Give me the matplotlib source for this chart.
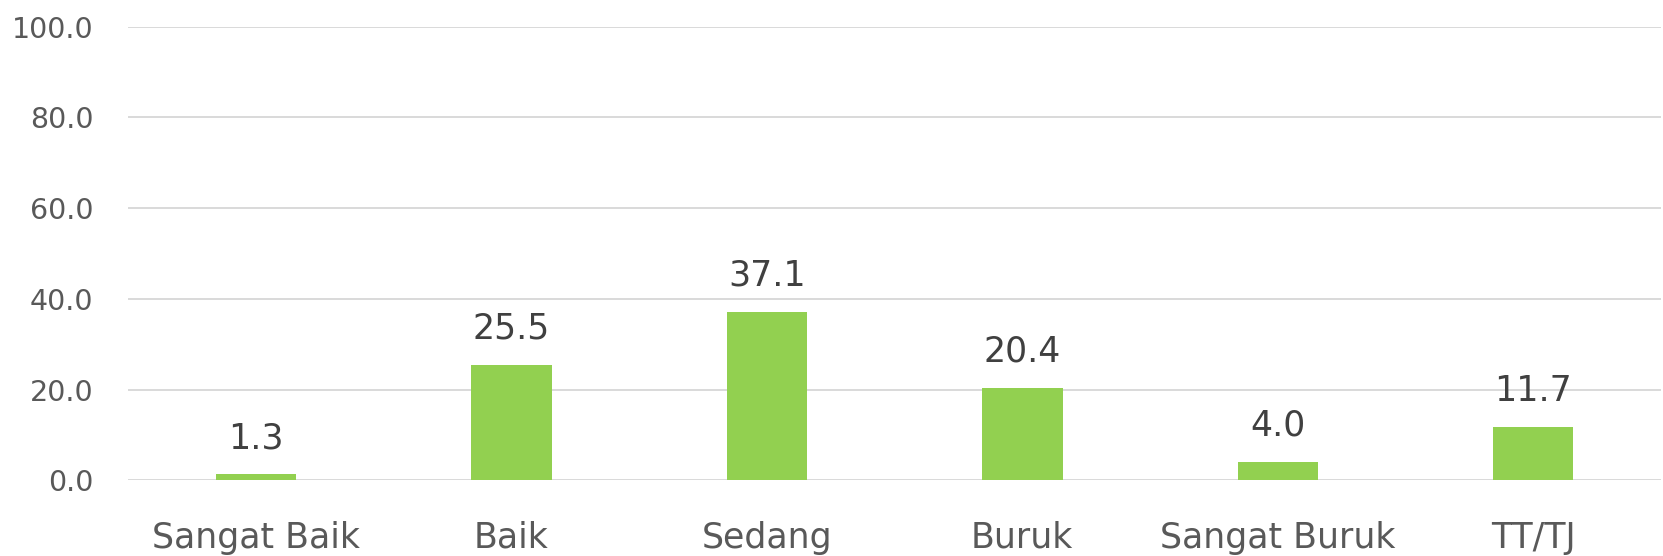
import matplotlib
matplotlib.use("Agg")
import matplotlib.pyplot as plt
import numpy as np

categories = ["Sangat Baik", "Baik", "Sedang", "Buruk", "Sangat Buruk", "TT/TJ"]
values = [1.3, 25.5, 37.1, 20.4, 4.0, 11.7]
yticks = [0, 20, 40, 60, 80, 100]

plt.rcParams['font.family'] = ['DejaVu Sans']

fig = plt.figure(figsize=(16.63, 5.56), dpi=100)
ax = fig.add_axes([0.077, 0.136, 0.9218, 0.816])

x = np.arange(len(categories))
bars = ax.bar(x, values, width=0.315, color="#92d050", zorder=3)

ax.set_xlim(-0.5, len(categories) - 0.5)
ax.set_ylim(0, 100)
ax.set_yticks(yticks)
ax.set_yticklabels([f"{v:.1f}" for v in yticks], fontsize=20.5, color="#595959")
ax.set_xticks(x)
ax.set_xticklabels(categories, fontsize=25, color="#595959")
ax.tick_params(axis='y', length=0, pad=25)
ax.tick_params(axis='x', length=0, pad=29)
ax.grid(axis='y', color="#d9d9d9", linewidth=1.4, zorder=0)
ax.set_axisbelow(True)
for s in ax.spines.values():
    s.set_visible(False)

for xi, v in zip(x, values):
    ax.annotate(f"{v:.1f}", (xi, v), xytext=(0, 19), textcoords="offset points",
                ha="center", va="baseline", fontsize=25, color="#404040")

fig.savefig("out.png", dpi=100)
